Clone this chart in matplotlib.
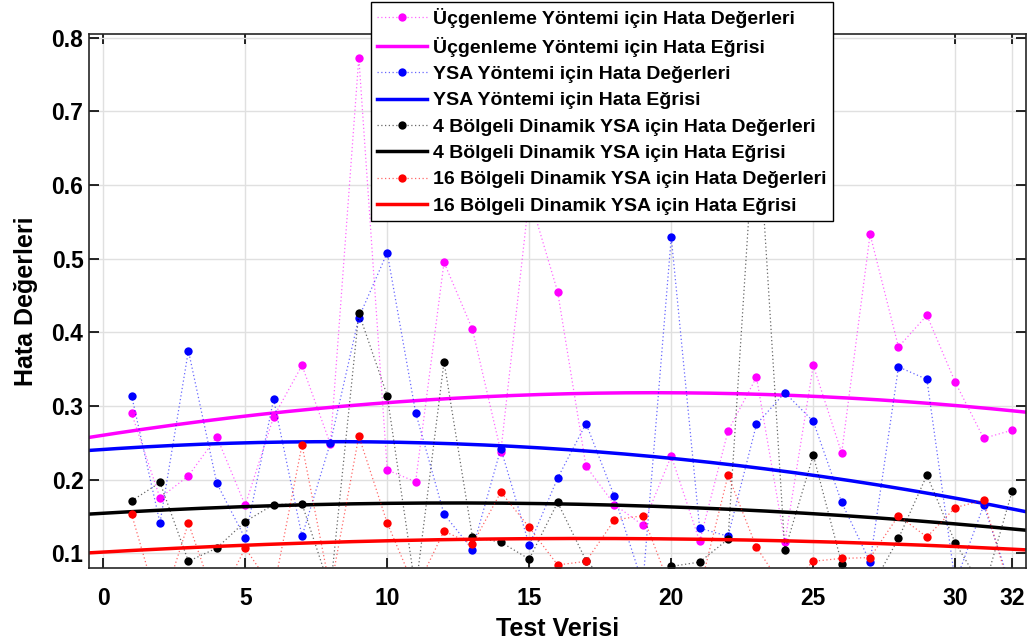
import matplotlib
matplotlib.use("Agg")
import matplotlib.pyplot as plt
import matplotlib.colors as mcolors
import numpy as np

plt.rcParams['font.family'] = ['Liberation Sans', 'DejaVu Sans']
plt.rcParams['font.weight'] = 'bold'

# test indices
test_no = np.arange(1, 33)

# error values (points below 0.08 are off-axis estimates)
ucgenleme = [0.290, 0.175, 0.205, 0.258, 0.165, 0.285, 0.355, 0.248, 0.773, 0.213,
             0.197, 0.495, 0.404, 0.238, 0.585, 0.455, 0.218, 0.166, 0.138, 0.232,
             0.116, 0.266, 0.339, 0.115, 0.355, 0.236, 0.533, 0.380, 0.423, 0.332,
             0.256, 0.267]
ysa = [0.314, 0.141, 0.375, 0.195, 0.120, 0.309, 0.123, 0.250, 0.420, 0.508,
       0.291, 0.153, 0.105, 0.242, 0.111, 0.202, 0.276, 0.177, 0.058, 0.529,
       0.134, 0.123, 0.275, 0.318, 0.279, 0.169, 0.088, 0.353, 0.336, 0.060,
       0.165, 0.050]
bolge4 = [0.171, 0.196, 0.089, 0.107, 0.143, 0.166, 0.167, 0.050, 0.426, 0.314,
          0.050, 0.360, 0.122, 0.115, 0.092, 0.169, 0.090, 0.050, 0.050, 0.082,
          0.088, 0.119, 0.720, 0.104, 0.233, 0.086, 0.050, 0.120, 0.206, 0.114,
          0.050, 0.184]
bolge16 = [0.153, 0.020, 0.141, 0.030, 0.107, 0.050, 0.247, 0.050, 0.259, 0.141,
           0.050, 0.130, 0.112, 0.183, 0.135, 0.084, 0.089, 0.145, 0.151, 0.050,
           0.050, 0.206, 0.108, 0.050, 0.089, 0.093, 0.094, 0.151, 0.122, 0.162,
           0.172, 0.040]

series = [
    (ucgenleme, '#FF00FF', 'Üçgenleme Yöntemi için Hata'),
    (ysa, '#0000FF', 'YSA Yöntemi için Hata'),
    (bolge4, '#000000', '4 Bölgeli Dinamik YSA için Hata'),
    (bolge16, '#FF0000', '16 Bölgeli Dinamik YSA için Hata'),
]

fig = plt.figure(figsize=(10.3, 6.41), dpi=100)
ax = fig.add_axes([0.0864, 0.114, 0.910, 0.833])

xs = np.linspace(-0.5, 32.5, 300)
for vals, col, name in series:
    ax.plot(test_no, vals, linestyle=(0, (1, 2)), linewidth=0.9,
            color=mcolors.to_rgba(col, 0.6),
            marker='o', markersize=6, markerfacecolor=col, markeredgecolor='none',
            label=name + ' Değerleri')
    p = np.polyfit(test_no, vals, 2)
    ax.plot(xs, np.polyval(p, xs), '-', color=col, linewidth=2.5,
            label=name + ' Eğrisi')

ax.set_xlim(-0.5, 32.5)
ax.set_ylim(0.08, 0.805)
ax.set_xticks([0, 5, 10, 15, 20, 25, 30, 32])
ax.set_yticks([0.1, 0.2, 0.3, 0.4, 0.5, 0.6, 0.7, 0.8])
ax.tick_params(direction='in', length=7, width=1.2, labelsize=16.5,
               top=True, right=True)
ax.tick_params(axis='x', pad=14)
ax.tick_params(axis='y', pad=4)
for lab in ax.get_xticklabels() + ax.get_yticklabels():
    lab.set_fontweight('bold')
ax.grid(True, color='#e0e0e0', linewidth=1)
ax.set_axisbelow(True)
for sp in ax.spines.values():
    sp.set_linewidth(1.2)
    sp.set_color('#262626')

ax.set_xlabel('Test Verisi', fontsize=18, fontweight='bold')
ax.xaxis.set_label_coords(0.5, -0.092)
ax.set_ylabel('Hata Değerleri', fontsize=18, fontweight='bold')
ax.yaxis.set_label_coords(-0.054, 0.5)

leg = ax.legend(loc='upper left', bbox_to_anchor=(371 / 1030, 1 - 2 / 641),
                bbox_transform=fig.transFigure, borderaxespad=0,
                prop={'size': 14, 'weight': 'bold'}, handlelength=2.6,
                handletextpad=0.3, labelspacing=0.45, borderpad=0.3,
                fancybox=False, framealpha=1, edgecolor='black')
leg.get_frame().set_linewidth(1.0)
leg.set_zorder(10)

fig.savefig('out.png', dpi=100)
